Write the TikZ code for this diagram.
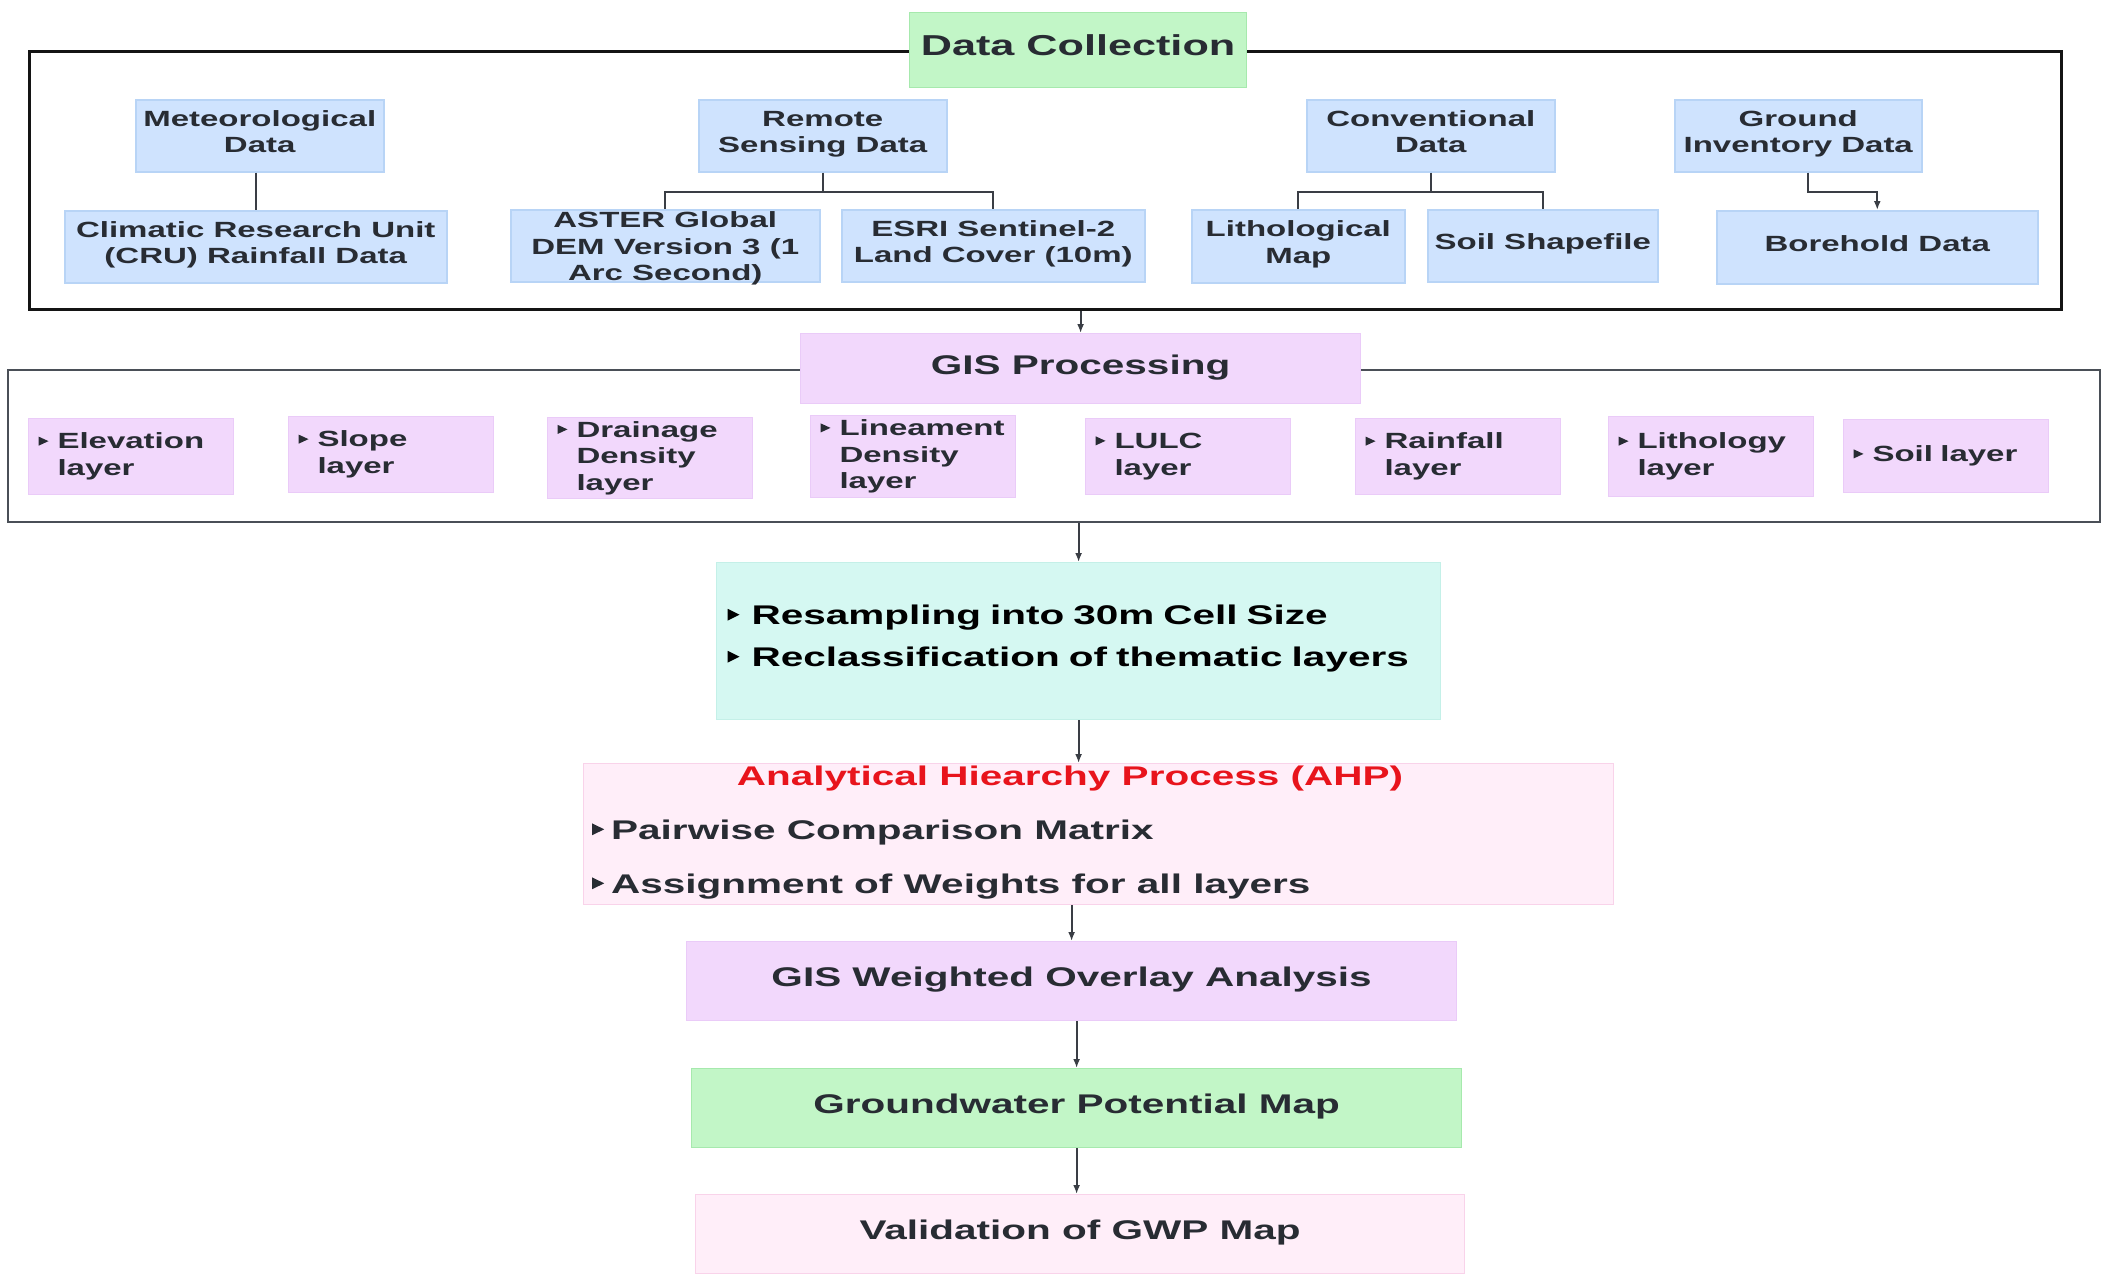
\documentclass[tikz,border=0pt]{standalone}
\usepackage{fontspec}
\setmainfont{Liberation Sans}[FakeStretch=1.5]
\usetikzlibrary{arrows.meta,calc}
\definecolor{txt}{HTML}{282C33}
\definecolor{bluef}{HTML}{CFE3FE}
\definecolor{blued}{HTML}{B8D4F6}
\definecolor{greenf}{HTML}{C2F6C7}
\definecolor{greend}{HTML}{A6E9AD}
\definecolor{purf}{HTML}{F2D8FC}
\definecolor{purd}{HTML}{EACBF8}
\definecolor{cyanf}{HTML}{D5F8F2}
\definecolor{cyand}{HTML}{C4F0E8}
\definecolor{pinkf}{HTML}{FFEEF9}
\definecolor{pinkd}{HTML}{F9D3EA}
\definecolor{ahpred}{HTML}{E8141C}
\definecolor{lnk}{HTML}{3A3E45}
\definecolor{frmA}{HTML}{141414}
\definecolor{frmB}{HTML}{4A4F57}
\newcommand\bulS{\tikz[baseline=0pt,x=1pt,y=1pt]\fill[txt](0,3.2)--(0,12.4)--(10,7.8)--cycle;\kern9pt}
\newcommand\bulL{\tikz[baseline=0pt,x=1pt,y=1pt]\fill[black](0,3.8)--(0,15.6)--(12,9.7)--cycle;\kern12pt}
\newcommand\bulA{\tikz[baseline=0pt,x=1pt,y=1pt]\fill[txt](0,3.8)--(0,15.6)--(12,9.7)--cycle;\kern7pt}
\tikzset{
  tS/.style={font=\fontsize{22}{26.5}\selectfont\bfseries, text=txt},
  tL/.style={font=\fontsize{27}{32}\selectfont\bfseries, text=txt},
  bluebox/.style={draw=blued, fill=bluef, line width=1.5pt, inner sep=3pt, tS, align=center, anchor=north west, text depth=8pt},
  laybox/.style={draw=purd, fill=purf, line width=1pt, inner xsep=10pt, inner ysep=0pt, tS, align=left, text width=185pt, minimum width=205pt, anchor=north west},
  bigbox/.style={line width=1.2pt, tL, anchor=north west, inner sep=0pt, text depth=8pt},
  frame/.style={anchor=north west, inner sep=0pt},
  lnkline/.style={draw=lnk, line width=2pt},
  arr/.style={draw=lnk, line width=2pt, -{Latex[length=9pt,width=7pt]}}
}
\begin{document}
\begin{tikzpicture}[x=1pt,y=-1pt]
\useasboundingbox[fill=white] (0,0) rectangle (2101,1275);
% frames
\node[frame, draw=frmA, line width=2.5pt, minimum width=2032pt, minimum height=258pt] (frame1) at (28,50) {};
\node[frame, draw=frmB, line width=2pt, minimum width=2092pt, minimum height=152pt] (frame2) at (7,369) {};
% data collection
\node[bigbox, draw=greend, fill=greenf, minimum width=337pt, minimum height=75pt, font=\fontsize{28.8}{34}\selectfont\bfseries, text depth=11pt] (dc) at (909,12) {Data Collection};
% top row
\node[bluebox, minimum width=248pt, minimum height=72pt] (met) at (135,99) {Meteorological\\Data};
\node[bluebox, minimum width=248pt, minimum height=72pt] (rs) at (698,99) {Remote\\Sensing Data};
\node[bluebox, minimum width=248pt, minimum height=72pt] (conv) at (1306,99) {Conventional\\Data};
\node[bluebox, minimum width=247pt, minimum height=72pt] (gid) at (1674,99) {Ground\\Inventory Data};
% second row
\node[bluebox, minimum width=382pt, minimum height=72pt] (cru) at (64,210) {Climatic Research Unit\\(CRU) Rainfall Data};
\node[bluebox, minimum width=309pt, minimum height=72pt] (aster) at (510,209) {};
\node[tS, align=center, inner sep=0pt] (asterT) at ($(aster.center)+(0,3)$) {ASTER Global\\DEM Version 3 (1\\Arc Second)};
\node[bluebox, minimum width=303pt, minimum height=72pt] (esri) at (841,209) {ESRI Sentinel-2\\Land Cover (10m)};
\node[bluebox, minimum width=213pt, minimum height=73pt] (lith) at (1191,209) {Lithological\\Map};
\node[bluebox, minimum width=230pt, minimum height=72pt] (soil) at (1427,209) {Soil Shapefile};
\node[bluebox, minimum width=321pt, minimum height=73pt] (bore) at (1716,210) {Borehold Data};
% connectors top
\draw[lnkline] (cru.north |- met.south) -- (cru.north);
\draw[lnkline] (rs.south) -- ++(0,19) -| (aster.north);
\draw[lnkline] (rs.south) ++(0,19) -| (esri.north);
\draw[lnkline] (conv.south) -- ++(0,19) -| (lith.north);
\draw[lnkline] (conv.south) ++(0,19) -| (soil.north);
\draw[arr] ($(gid.south)+(9.5,0)$) -- ++(0,19) -| (bore.north);
% GIS processing
\node[bigbox, draw=purd, fill=purf, minimum width=560pt, minimum height=70pt] (gisp) at (800,333) {GIS Processing};
\draw[arr] (frame1.south -| gisp.north) -- (gisp.north);
% layers
\node[laybox, minimum height=76pt] (elev) at (28,418) {\bulS Elevation\\\hspace*{19pt}layer};
\node[laybox, minimum height=76pt] (slope) at (288,416) {\bulS Slope\\\hspace*{19pt}layer};
\node[laybox, minimum height=81pt] (drain) at (547,417) {\bulS Drainage\\\hspace*{19pt}Density\\\hspace*{19pt}layer};
\node[laybox, minimum height=82pt] (linea) at (810,415) {\bulS Lineament\\\hspace*{19pt}Density\\\hspace*{19pt}layer};
\node[laybox, minimum height=76pt] (lulc) at (1085,418) {\bulS LULC\\\hspace*{19pt}layer};
\node[laybox, minimum height=76pt] (rain) at (1355,418) {\bulS Rainfall\\\hspace*{19pt}layer};
\node[laybox, minimum height=80pt] (litho) at (1608,416) {\bulS Lithology\\\hspace*{19pt}layer};
\node[laybox, minimum height=73pt] (soill) at (1843,419) {\bulS Soil layer};
% resampling
\node[bigbox, draw=cyand, fill=cyanf, minimum width=724pt, minimum height=157pt, text width=702pt, inner xsep=11pt, align=left, text=black, font=\fontsize{27}{42}\selectfont\bfseries, text depth=53pt] (res) at (716,562) {\bulL Resampling into 30m Cell Size\\\bulL Reclassification of thematic layers};
\draw[arr] (frame2.south -| res.north) -- (res.north);
% AHP
\node[bigbox, draw=pinkd, fill=pinkf, minimum width=1030pt, minimum height=141pt] (ahp) at (583,763) {};
\node[tL, text=ahpred, anchor=base, inner sep=0pt] (ahpT) at (1070,785) {Analytical Hiearchy Process (AHP)};
\node[tL, anchor=base west, inner sep=0pt] (ahp1) at (592,839) {\bulA Pairwise Comparison Matrix};
\node[tL, anchor=base west, inner sep=0pt] (ahp2) at (592,893) {\bulA Assignment of Weights for all layers};
\draw[arr] (res.south) -- (res.south |- ahp.north);
% lower chain
\node[bigbox, draw=purd, fill=purf, minimum width=770pt, minimum height=79pt] (gwo) at (686,941) {GIS Weighted Overlay Analysis};
\node[bigbox, draw=greend, fill=greenf, minimum width=770pt, minimum height=79pt] (gwp) at (691,1068) {Groundwater Potential Map};
\node[bigbox, draw=pinkd, fill=pinkf, minimum width=769pt, minimum height=79pt] (val) at (695,1194) {Validation of GWP Map};
\draw[arr] (gwo.north |- ahp.south) -- (gwo.north);
\draw[arr] (gwp.north |- gwo.south) -- (gwp.north);
\draw[arr] (gwp.south) -- (gwp.south |- val.north);
\end{tikzpicture}
\end{document}
